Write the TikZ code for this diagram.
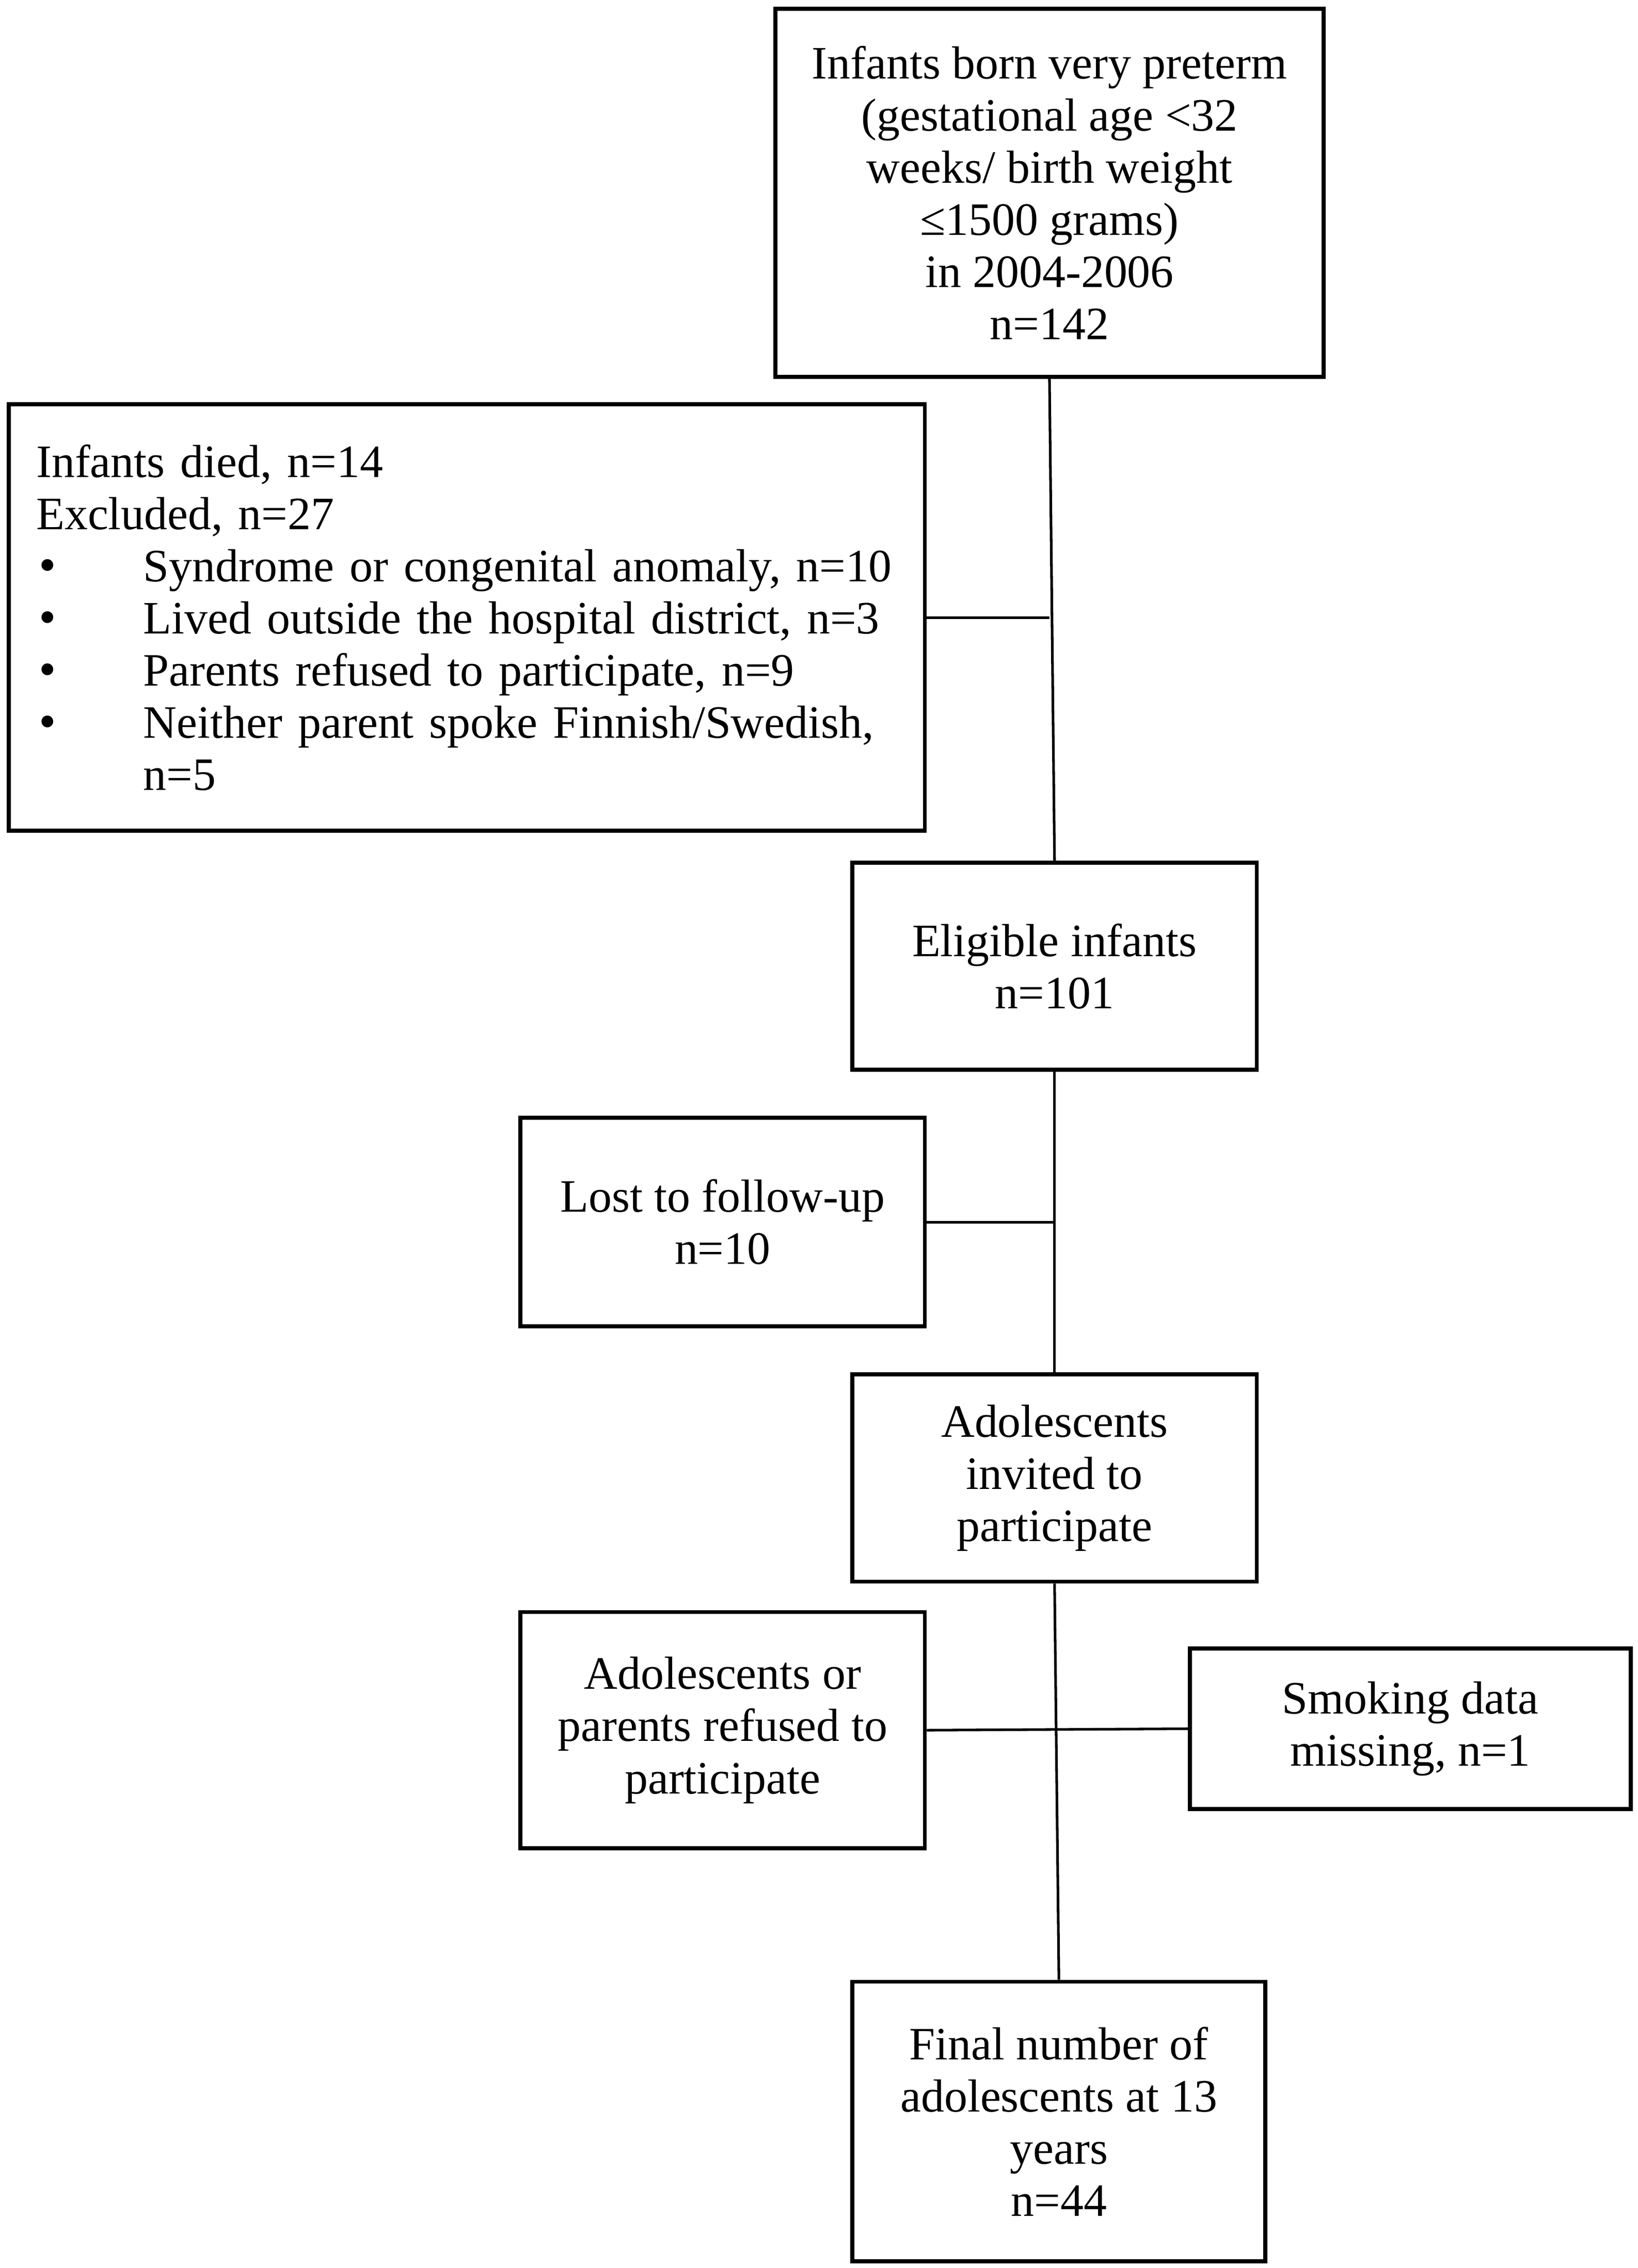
\documentclass[tikz,border=0pt]{standalone}
\usepackage{fontspec}
\setmainfont{Liberation Serif}
\newcommand{\bigdot}{\makebox[37pt][l]{\hspace*{1pt}\smash{\fontsize{17}{18}\selectfont\textbullet}}}
\begin{document}
\begin{tikzpicture}[x=0.5pt, y=-0.5pt,
    box/.style={draw, line width=1.4pt, inner sep=0pt, align=center, font=\fontsize{16}{18}\selectfont},
    link/.style={line width=0.9pt}]
        \useasboundingbox (0,0) rectangle (1130,1564.5);
        \node[box, minimum width=189pt, minimum height=127pt] (born) at (724,133) {Infants born very preterm\\(gestational age {<}32\\weeks/ birth weight\\≤1500 grams)\\in 2004-2006\\n=142};
        \node[box, minimum width=316pt, minimum height=147pt, align=left, text width=297pt] (excl) at (322,426) {Infants died, n=14\\Excluded, n=27\\
            \bigdot Syndrome or congenital anomaly, n=10\\
            \bigdot Lived outside the hospital district, n=3\\
            \bigdot Parents refused to participate, n=9\\
            \bigdot Neither parent spoke Finnish/Swedish,\\
            \hspace*{37pt}n=5};
        \node[box, minimum width=139.5pt, minimum height=71.5pt] (elig) at (727.5,666.5) {Eligible infants\\n=101};
        \node[box, minimum width=139.5pt, minimum height=72pt] (lost) at (498.5,843) {Lost to follow-up\\n=10};
        \node[box, minimum width=139.5pt, minimum height=71.5pt] (invit) at (727.5,1019.5) {Adolescents\\invited to\\participate};
        \node[box, minimum width=139.5pt, minimum height=81.5pt] (refus) at (498.5,1193.5) {Adolescents or\\parents refused to\\participate};
        \node[box, minimum width=152pt, minimum height=55.5pt] (smok) at (973,1192.5) {Smoking data\\missing, n=1};
        \node[box, minimum width=142.5pt, minimum height=96.5pt] (final) at (730.5,1463.5) {Final number of\\adolescents at 13\\years\\n=44};
        \draw[link] (born.south) -- (elig.north);
        \draw[link] (excl.east) -- (excl.east -| born.south);
        \draw[link] (elig.south) -- (invit.north);
        \draw[link] (lost.east) -- (lost.east -| elig.south);
        \draw[link] (invit.south) -- (final.north);
        \draw[link] (refus.east) -- (smok.west);
\end{tikzpicture}
\end{document}
